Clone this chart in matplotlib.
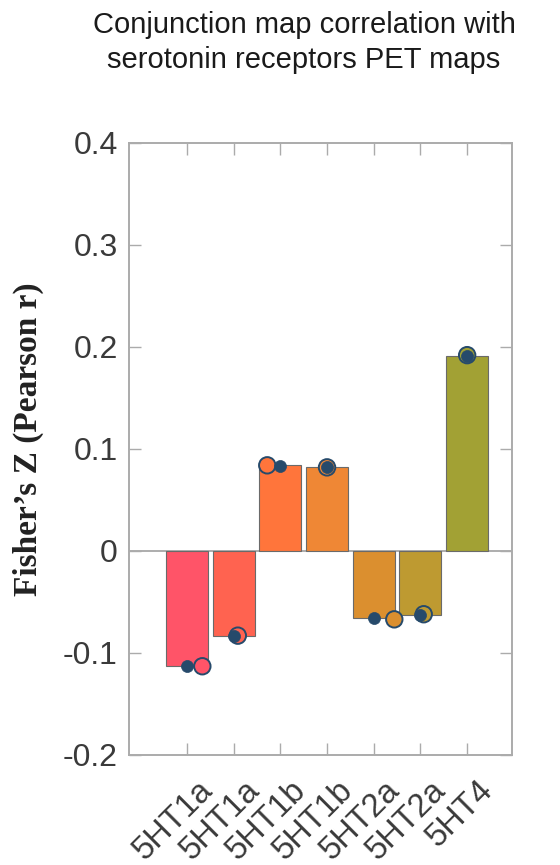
import matplotlib
matplotlib.use("Agg")
import matplotlib.pyplot as plt
import matplotlib.transforms as mtransforms
import numpy as np

# ---- data ----
categories = ["5HT1a", "5HT1a", "5HT1b", "5HT1b", "5HT2a", "5HT2a", "5HT4"]
bar_values = [-0.113, -0.083, 0.084, 0.082, -0.066, -0.063, 0.191]
mean_points = [-0.113, -0.083, 0.083, 0.082, -0.066, -0.063, 0.191]
indiv_points = [-0.113, -0.083, 0.084, 0.082, -0.067, -0.062, 0.192]
indiv_jitter = [0.33, 0.09, -0.28, 0.0, 0.44, 0.07, 0.0]
bar_colors = ["#FF5468", "#FF6350", "#FF753B", "#EF8735", "#DB8F2F", "#BE9A31", "#A2A134"]
yticks = [-0.2, -0.1, 0, 0.1, 0.2, 0.3, 0.4]
ytick_labels = ["-0.2", "-0.1", "0", "0.1", "0.2", "0.3", "0.4"]
title_lines = ["Conjunction map correlation with", "serotonin receptors PET maps"]
ylabel = "Fisher\u2019s Z (Pearson r)"

navy = "#264A6B"
spine_gray = "#ABABAB"

fig = plt.figure(figsize=(5.6, 8.65), dpi=100)
ax = fig.add_axes([129/560, 1-755/865, (512-129)/560, (755-143)/865])

x = np.arange(len(categories))
ax.axhline(0, color="#A0A0A0", lw=1.2, zorder=1)
ax.bar(x, bar_values, width=0.9, color=bar_colors, edgecolor="#6a6a6a",
       linewidth=0.8, zorder=2)
ax.scatter(x + np.array(indiv_jitter), indiv_points, s=140, c=bar_colors,
           edgecolors=navy, linewidths=1.4, zorder=3)
ax.scatter(x, mean_points, s=75, c=navy, edgecolors=navy, linewidths=0.5, zorder=4)

ax.set_xlim(-1.24, 6.96)
ax.set_ylim(-0.2, 0.4)
ax.set_yticks(yticks)
ax.set_yticklabels(ytick_labels)
ax.set_xticks(x)
ax.set_xticklabels(categories)

for sp in ax.spines.values():
    sp.set_color(spine_gray)
    sp.set_linewidth(1.4)

ax.tick_params(direction="in", top=True, right=True, length=8.5, width=1.0,
               color=spine_gray, labelcolor="#3a3a3a", labelsize=23)
ax.tick_params(axis="y", pad=8)
ax.tick_params(axis="x", pad=14, labelsize=23.5)

offset = mtransforms.ScaledTranslation(10/100, 0, fig.dpi_scale_trans)
for lab in ax.get_xticklabels():
    lab.set_fontfamily("Liberation Sans")
    lab.set_rotation(45)
    lab.set_rotation_mode("anchor")
    lab.set_ha("right")
    lab.set_va("top")
    lab.set_transform(lab.get_transform() + offset)
for lab in ax.get_yticklabels():
    lab.set_fontfamily("Liberation Sans")

fig.text(304/560, 1-25/865, title_lines[0], ha="center", va="center", fontsize=21,
         family="Liberation Sans", color="#1a1a1a")
fig.text(304/560, 1-60/865, title_lines[1], ha="center", va="center", fontsize=21,
         family="Liberation Sans", color="#1a1a1a")

fig.text(28/560, 1-439/865, ylabel, rotation=90, ha="center", va="center",
         fontsize=24, family="Liberation Serif", fontweight="bold", color="#222222")

fig.savefig("out.png", dpi=100)
